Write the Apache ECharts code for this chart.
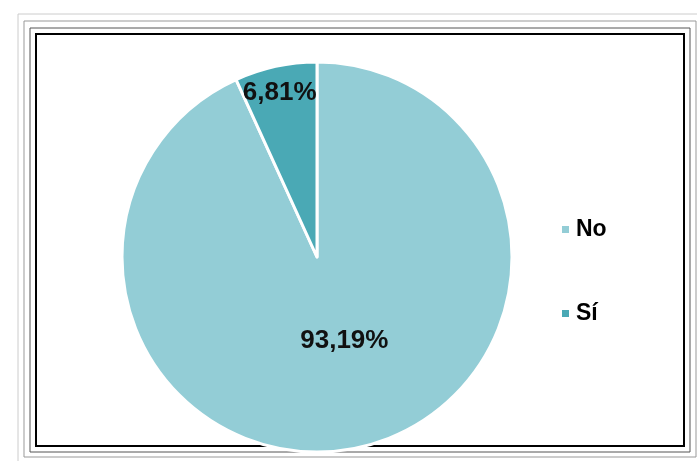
<!DOCTYPE html>
<html>
<head>
<meta charset="UTF-8">
<title>Pie</title>
<script type="text/javascript" src="https://cdn.jsdelivr.net/npm/echarts@6/dist/echarts.min.js"></script>
<style>
html,body{margin:0;padding:0;background:#fff;}
</style>
</head>
<body>
<div id="mychar" style="width:697px;height:461px;"></div>

<script type="text/javascript">

var categories = ['No', 'Sí'];
var values = [93.19, 6.81];
var colors = ['#93cdd6', '#4aa9b5'];
// where the labels sit, shifted from the default inside spot
var labelShift = [[6, -14], [-16, -66]];

var data = [];
for (var i = 0; i < categories.length; i++) {
  data.push({ name: categories[i], value: values[i], itemStyle: { color: colors[i] } });
}

var mychart = echarts.init(document.getElementById('mychar'));

var option = {
  animation: false,
  legend: {
    orient: 'vertical',
    left: 555,
    top: 213,
    itemGap: 61,
    itemWidth: 9,
    itemHeight: 9,
    icon: 'rect',
    textStyle: { fontFamily: 'Liberation Sans, Arial', fontSize: 23, fontWeight: 'bold', color: '#000', padding: [0, 0, 0, 1] },
    data: categories
  },
  graphic: [
    { type: 'rect', shape: { x: 36, y: 34, width: 648, height: 412 }, style: { fill: null, stroke: '#000', lineWidth: 2 } },
    { type: 'rect', shape: { x: 30, y: 28, width: 660, height: 424 }, style: { fill: null, stroke: '#555', lineWidth: 1 } },
    { type: 'rect', shape: { x: 24, y: 21, width: 672, height: 436 }, style: { fill: null, stroke: '#999', lineWidth: 1 } },
    { type: 'rect', shape: { x: 18, y: 14, width: 684, height: 450 }, style: { fill: null, stroke: '#ccc', lineWidth: 1 } }
  ],
  series: [{
    name: 'Respuesta',
    type: 'pie',
    center: [317, 257],
    radius: [0, 195],
    startAngle: 90,
    clockwise: true,
    itemStyle: { borderColor: '#fff', borderWidth: 3 },
    label: {
      show: true,
      position: 'inside',
      fontFamily: 'Liberation Sans, Arial',
      fontSize: 26,
      fontWeight: 'bold',
      color: '#111',
      formatter: function (p) { return p.value.toFixed(2).replace('.', ',') + '%'; }
    },
    labelLayout: function (p) {
      var s = labelShift[p.dataIndex];
      return { dx: s[0], dy: s[1] };
    },
    labelLine: { show: false },
    emphasis: { disabled: true },
    data: data
  }]
};

mychart.setOption(option);
</script>
</body>
</html>
